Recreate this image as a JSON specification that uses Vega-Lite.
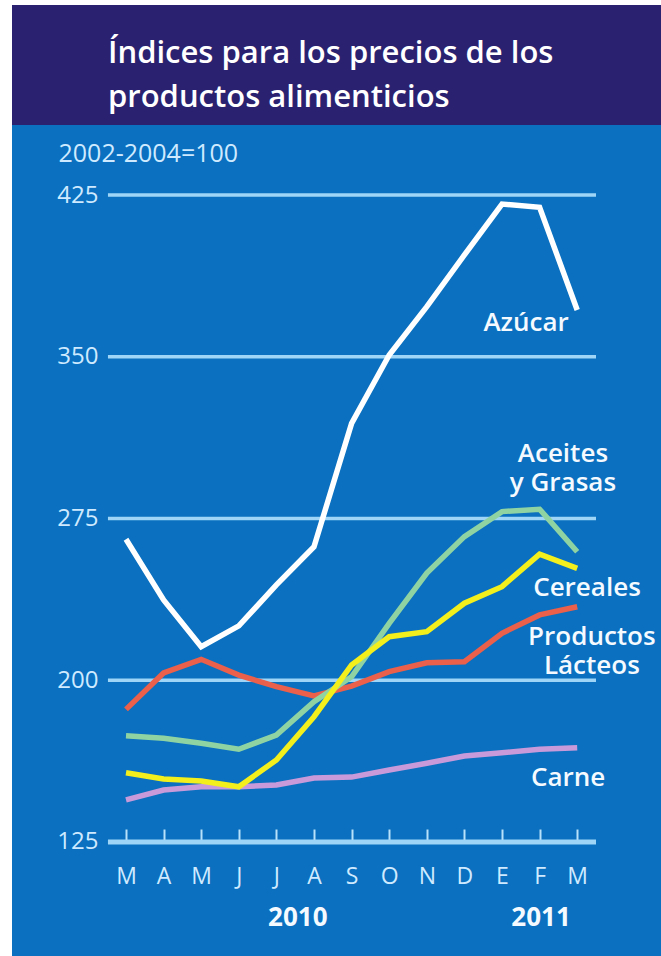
{
  "$schema": "https://vega.github.io/schema/vega-lite/v6.json",
  "background": "#ffffff",
  "padding": {"left": 12, "top": 5, "right": 0, "bottom": 0},
  "spacing": 0,
  "config": {"view": {"stroke": null}, "font": "Open Sans"},
  "datasets": {
    "series": [
      {"serie": "Carne", "mes": 0, "fecha": "2010-03", "indice": 144.5},
      {"serie": "Carne", "mes": 1, "fecha": "2010-04", "indice": 149.1},
      {"serie": "Carne", "mes": 2, "fecha": "2010-05", "indice": 150.6},
      {"serie": "Carne", "mes": 3, "fecha": "2010-06", "indice": 150.6},
      {"serie": "Carne", "mes": 4, "fecha": "2010-07", "indice": 151.4},
      {"serie": "Carne", "mes": 5, "fecha": "2010-08", "indice": 154.7},
      {"serie": "Carne", "mes": 6, "fecha": "2010-09", "indice": 155.1},
      {"serie": "Carne", "mes": 7, "fecha": "2010-10", "indice": 158.4},
      {"serie": "Carne", "mes": 8, "fecha": "2010-11", "indice": 161.5},
      {"serie": "Carne", "mes": 9, "fecha": "2010-12", "indice": 164.9},
      {"serie": "Carne", "mes": 10, "fecha": "2011-01", "indice": 166.4},
      {"serie": "Carne", "mes": 11, "fecha": "2011-02", "indice": 168.0},
      {"serie": "Carne", "mes": 12, "fecha": "2011-03", "indice": 168.7},
      {"serie": "Productos Lácteos", "mes": 0, "fecha": "2010-03", "indice": 186.5},
      {"serie": "Productos Lácteos", "mes": 1, "fecha": "2010-04", "indice": 203.4},
      {"serie": "Productos Lácteos", "mes": 2, "fecha": "2010-05", "indice": 209.7},
      {"serie": "Productos Lácteos", "mes": 3, "fecha": "2010-06", "indice": 202.4},
      {"serie": "Productos Lácteos", "mes": 4, "fecha": "2010-07", "indice": 197.0},
      {"serie": "Productos Lácteos", "mes": 5, "fecha": "2010-08", "indice": 192.7},
      {"serie": "Productos Lácteos", "mes": 6, "fecha": "2010-09", "indice": 197.3},
      {"serie": "Productos Lácteos", "mes": 7, "fecha": "2010-10", "indice": 204.0},
      {"serie": "Productos Lácteos", "mes": 8, "fecha": "2010-11", "indice": 208.1},
      {"serie": "Productos Lácteos", "mes": 9, "fecha": "2010-12", "indice": 208.6},
      {"serie": "Productos Lácteos", "mes": 10, "fecha": "2011-01", "indice": 221.8},
      {"serie": "Productos Lácteos", "mes": 11, "fecha": "2011-02", "indice": 230.3},
      {"serie": "Productos Lácteos", "mes": 12, "fecha": "2011-03", "indice": 234.1},
      {"serie": "Aceites y Grasas", "mes": 0, "fecha": "2010-03", "indice": 174.3},
      {"serie": "Aceites y Grasas", "mes": 1, "fecha": "2010-04", "indice": 173.1},
      {"serie": "Aceites y Grasas", "mes": 2, "fecha": "2010-05", "indice": 170.8},
      {"serie": "Aceites y Grasas", "mes": 3, "fecha": "2010-06", "indice": 168.0},
      {"serie": "Aceites y Grasas", "mes": 4, "fecha": "2010-07", "indice": 174.6},
      {"serie": "Aceites y Grasas", "mes": 5, "fecha": "2010-08", "indice": 190.1},
      {"serie": "Aceites y Grasas", "mes": 6, "fecha": "2010-09", "indice": 201.6},
      {"serie": "Aceites y Grasas", "mes": 7, "fecha": "2010-10", "indice": 226.4},
      {"serie": "Aceites y Grasas", "mes": 8, "fecha": "2010-11", "indice": 249.7},
      {"serie": "Aceites y Grasas", "mes": 9, "fecha": "2010-12", "indice": 266.6},
      {"serie": "Aceites y Grasas", "mes": 10, "fecha": "2011-01", "indice": 278.2},
      {"serie": "Aceites y Grasas", "mes": 11, "fecha": "2011-02", "indice": 279.3},
      {"serie": "Aceites y Grasas", "mes": 12, "fecha": "2011-03", "indice": 259.6},
      {"serie": "Cereales", "mes": 0, "fecha": "2010-03", "indice": 157.1},
      {"serie": "Cereales", "mes": 1, "fecha": "2010-04", "indice": 154.2},
      {"serie": "Cereales", "mes": 2, "fecha": "2010-05", "indice": 153.3},
      {"serie": "Cereales", "mes": 3, "fecha": "2010-06", "indice": 150.6},
      {"serie": "Cereales", "mes": 4, "fecha": "2010-07", "indice": 163.0},
      {"serie": "Cereales", "mes": 5, "fecha": "2010-08", "indice": 183.1},
      {"serie": "Cereales", "mes": 6, "fecha": "2010-09", "indice": 207.1},
      {"serie": "Cereales", "mes": 7, "fecha": "2010-10", "indice": 220.2},
      {"serie": "Cereales", "mes": 8, "fecha": "2010-11", "indice": 222.5},
      {"serie": "Cereales", "mes": 9, "fecha": "2010-12", "indice": 235.7},
      {"serie": "Cereales", "mes": 10, "fecha": "2011-01", "indice": 243.4},
      {"serie": "Cereales", "mes": 11, "fecha": "2011-02", "indice": 258.5},
      {"serie": "Cereales", "mes": 12, "fecha": "2011-03", "indice": 251.9},
      {"serie": "Azúcar", "mes": 0, "fecha": "2010-03", "indice": 265.4},
      {"serie": "Azúcar", "mes": 1, "fecha": "2010-04", "indice": 237.2},
      {"serie": "Azúcar", "mes": 2, "fecha": "2010-05", "indice": 215.6},
      {"serie": "Azúcar", "mes": 3, "fecha": "2010-06", "indice": 225.2},
      {"serie": "Azúcar", "mes": 4, "fecha": "2010-07", "indice": 244.2},
      {"serie": "Azúcar", "mes": 5, "fecha": "2010-08", "indice": 261.9},
      {"serie": "Azúcar", "mes": 6, "fecha": "2010-09", "indice": 319.1},
      {"serie": "Azúcar", "mes": 7, "fecha": "2010-10", "indice": 350.8},
      {"serie": "Azúcar", "mes": 8, "fecha": "2010-11", "indice": 373.2},
      {"serie": "Azúcar", "mes": 9, "fecha": "2010-12", "indice": 397.2},
      {"serie": "Azúcar", "mes": 10, "fecha": "2011-01", "indice": 420.8},
      {"serie": "Azúcar", "mes": 11, "fecha": "2011-02", "indice": 419.3},
      {"serie": "Azúcar", "mes": 12, "fecha": "2011-03", "indice": 371.7}
    ],
    "rejilla": [
      {"indice": 125, "mes": -0.48, "mes_fin": 12.5, "linea": "base"},
      {"indice": 200, "mes": -0.48, "mes_fin": 12.5, "linea": "rejilla"},
      {"indice": 275, "mes": -0.48, "mes_fin": 12.5, "linea": "rejilla"},
      {"indice": 350, "mes": -0.48, "mes_fin": 12.5, "linea": "rejilla"},
      {"indice": 425, "mes": -0.48, "mes_fin": 12.5, "linea": "rejilla"}
    ],
    "anios": [{"anio": "2010", "mes": 4.57, "indice": 89.8}, {"anio": "2011", "mes": 11.04, "indice": 89.8}],
    "etiquetas": [
      {"serie": "Azúcar", "texto": ["Azúcar"], "mes": 10.64, "indice": 365.6},
      {"serie": "Aceites y Grasas", "texto": ["Aceites", "y Grasas"], "mes": 11.62, "indice": 304.9},
      {"serie": "Cereales", "texto": ["Cereales"], "mes": 12.26, "indice": 242.8},
      {"serie": "Productos Lácteos", "texto": ["Productos", "Lácteos"], "mes": 12.39, "indice": 220.0},
      {"serie": "Carne", "texto": ["Carne"], "mes": 11.76, "indice": 154.7}
    ]
  },
  "vconcat": [
    {
      "width": 649,
      "height": 120,
      "view": {"fill": "#2a2270", "stroke": null},
      "data": {"values": [
        {"linea": 1, "texto": "Índices para los precios de los"},
        {"linea": 2, "texto": "productos alimenticios"}
      ]},
      "mark": {"type": "text", "align": "left", "baseline": "alphabetic", "font": "Open Sans", "fontSize": 31, "fontWeight": 600, "color": "#ffffff"},
      "encoding": {
        "x": {"value": 96},
        "y": {"field": "linea", "type": "ordinal", "axis": null, "scale": {"type": "point", "range": [58, 102], "padding": 0}},
        "text": {"field": "texto"}
      }
    },
    {
      "width": 649,
      "height": 831,
      "view": {"fill": "#0a70bf", "stroke": null},
      "encoding": {
        "x": {
          "field": "mes", "type": "quantitative",
          "scale": {"domain": [-3.0319, 14.2287], "nice": false, "zero": false},
          "axis": {
            "orient": "bottom", "offset": -114, "title": null,
            "values": [0, 1, 2, 3, 4, 5, 6, 7, 8, 9, 10, 11, 12],
            "labelExpr": "['M','A','M','J','J','A','S','O','N','D','E','F','M'][datum.value]",
            "domain": false, "grid": false, "ticks": true, "tickSize": -13, "tickWidth": 2, "tickColor": "#b8e2fb",
            "labelPadding": 36, "labelFontSize": 23, "labelColor": "#cfeaff", "labelFont": "Open Sans",
            "labelFlush": false, "labelOverlap": false
          }
        },
        "y": {
          "field": "indice", "type": "quantitative",
          "scale": {"domain": [72.14, 457.46], "nice": false, "zero": false},
          "axis": {
            "orient": "left", "offset": -96,
            "values": [125, 200, 275, 350, 425],
            "domain": false, "ticks": false, "grid": false,
            "labelPadding": 10, "labelFontSize": 24, "labelColor": "#cfeaff", "labelFont": "Open Sans",
            "labelFlush": false, "labelOverlap": false,
            "title": "2002-2004=100", "titleAngle": 0, "titleAlign": "left", "titleBaseline": "middle",
            "titleX": -50, "titleY": 28, "titleFontSize": 25, "titleFontWeight": "normal", "titleColor": "#cfeaff", "titleFont": "Open Sans"
          }
        }
      },
      "layer": [
        {
          "data": {"name": "rejilla"},
          "mark": {"type": "rule", "color": "#9fd6f8"},
          "encoding": {
            "x2": {"field": "mes_fin"},
            "strokeWidth": {"field": "linea", "type": "nominal", "legend": null, "scale": {"domain": ["base", "rejilla"], "range": [5, 3.5]}}
          }
        },
        {
          "data": {"name": "series"},
          "mark": {"type": "line", "strokeWidth": 5.5},
          "encoding": {
            "color": {
              "field": "serie", "type": "nominal", "legend": null,
              "scale": {
                "domain": ["Carne", "Productos Lácteos", "Aceites y Grasas", "Cereales", "Azúcar"],
                "range": ["#c99ad9", "#ea604a", "#90d3a3", "#f3ef1d", "#ffffff"]
              }
            }
          }
        },
        {
          "data": {"name": "anios"},
          "mark": {"type": "text", "fontSize": 26, "fontWeight": "bold", "color": "#f4faff", "baseline": "middle", "font": "Open Sans"},
          "encoding": {"text": {"field": "anio"}}
        },
        {
          "data": {"name": "etiquetas"},
          "mark": {"type": "text", "fontSize": 26, "fontWeight": 600, "color": "#f4faff", "baseline": "middle", "align": "center", "lineHeight": 29, "font": "Open Sans"},
          "encoding": {"text": {"field": "texto"}}
        }
      ]
    }
  ]
}
